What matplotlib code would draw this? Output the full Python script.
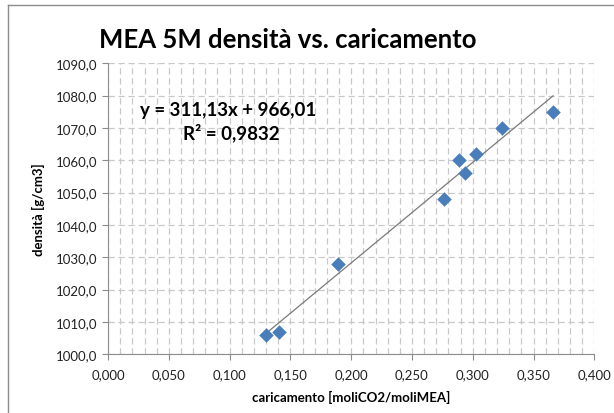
import matplotlib
matplotlib.use("Agg")
import matplotlib.pyplot as plt
from matplotlib.ticker import MultipleLocator, FuncFormatter
from matplotlib.lines import Line2D

# misure: caricamento vs densità
caricamento = [0.130, 0.141, 0.189, 0.276, 0.289, 0.294, 0.303, 0.324, 0.366]
densita = [1006, 1007, 1028, 1048, 1060, 1056, 1062, 1070, 1075]

# retta di regressione lineare
pendenza = 311.13
intercetta = 966.01
r2 = 0.9832

plt.rcParams['font.family'] = ['Lato', 'DejaVu Sans']

fig = plt.figure(figsize=(6.14, 4.14), dpi=100)
ax = fig.add_axes([0.176, 0.142, 0.792, 0.703])

# cornice del grafico
fig.add_artist(Line2D([8 / 614, 8 / 614], [0, 1 - 6 / 414], transform=fig.transFigure,
                      color='#8c8c8c', lw=1))
fig.add_artist(Line2D([8 / 614, 1], [1 - 6 / 414, 1 - 6 / 414], transform=fig.transFigure,
                      color='#8c8c8c', lw=1))

ax.set_xlim(0, 0.4)
ax.set_ylim(1000, 1090)
ax.xaxis.set_major_locator(MultipleLocator(0.05))
ax.xaxis.set_minor_locator(MultipleLocator(0.01))
ax.yaxis.set_major_locator(MultipleLocator(10))
ax.xaxis.set_major_formatter(FuncFormatter(lambda v, p: f"{v:.3f}".replace('.', ',')))
ax.yaxis.set_major_formatter(FuncFormatter(lambda v, p: f"{v:.1f}".replace('.', ',')))

ax.grid(which='major', color='#c8c8c8', linestyle=(0, (5, 3)), lw=0.9)
ax.grid(which='minor', axis='x', color='#c8c8c8', linestyle=(0, (5, 3)), lw=0.9)
ax.tick_params(which='major', length=4, color='#8c8c8c', labelsize=9.5, labelcolor='#222222')
ax.tick_params(which='minor', length=0)
ax.tick_params(axis='x', pad=6)
for s in ('top', 'right'):
    ax.spines[s].set_visible(False)
for s in ('left', 'bottom'):
    ax.spines[s].set_color('#8c8c8c')
ax.set_axisbelow(True)

x0, x1 = min(caricamento), max(caricamento)
ax.plot([x0, x1], [pendenza * x0 + intercetta, pendenza * x1 + intercetta],
        color='#7a7a7a', lw=0.9, zorder=2)
ax.scatter(caricamento, densita, marker='D', s=55, color='#4a7ebb', zorder=3, linewidths=0)

eq = f"y = {pendenza:.2f}x + {intercetta:.2f}".replace('.', ',')
ax.text(0.099, 1075.8, eq, fontsize=13.5, fontweight='bold', ha='center', va='center')
ax.text(0.101, 1068.6, f"R² = {r2:.4f}".replace('.', ','), fontsize=13.5, fontweight='bold',
        ha='center', va='center')

fig.text(0.469, 1 - 40 / 414, "MEA 5M densità vs. caricamento", fontsize=18.5,
         fontweight='bold', ha='center', va='center')
ax.set_xlabel("caricamento [moliCO2/moliMEA]", fontsize=9.5, fontweight='bold', labelpad=7)
ax.set_ylabel("densità [g/cm3]", fontsize=9.5, fontweight='bold', labelpad=8)

fig.savefig("out.png", dpi=100)
